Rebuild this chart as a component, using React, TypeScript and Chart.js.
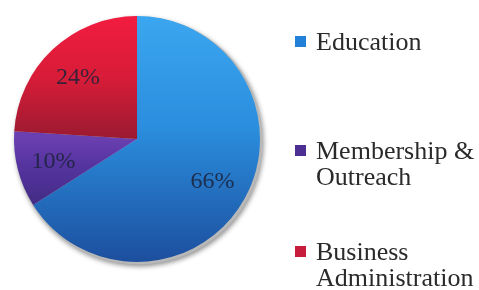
import React, { useEffect, useRef } from "react";
import { Chart, registerables } from "chart.js";

Chart.register(...registerables);

const categories = ["Education", "Membership & Outreach", "Business Administration"];
const values = [66, 10, 24];
const legendLines = [["Education"], ["Membership &", "Outreach"], ["Business", "Administration"]];
const percentLabels = ["66%", "10%", "24%"];

const gradientStops = [
  ["#3ba6f0", "#2b8ede", "#1c4f9e"],
  ["#6a3fb0", "#5634a0", "#3f2a80"],
  ["#f21c40", "#d81c38", "#9a1a30"],
];
const legendColors = ["#2180d8", "#4d2f93", "#c81c3c"];

const FONT = '"Liberation Serif", "Times New Roman", serif';

export default function App() {
  const canvasRef = useRef<HTMLCanvasElement | null>(null);

  useEffect(() => {
    document.body.style.margin = "0";
    const canvas = canvasRef.current;
    if (!canvas) return;

    const shadowPlugin = {
      id: "pieShadow",
      beforeDatasetsDraw(chart: any) {
        const arc = chart.getDatasetMeta(0).data[0];
        if (!arc) return;
        const { x, y, outerRadius } = arc;
        const ctx = chart.ctx;
        ctx.save();
        ctx.shadowColor = "rgba(0,0,0,0.45)";
        ctx.shadowBlur = 5;
        ctx.shadowOffsetX = 1;
        ctx.shadowOffsetY = 2;
        ctx.fillStyle = "#b8b8b8";
        ctx.beginPath();
        ctx.arc(x + 1.5, y + 1.5, outerRadius + 1, 0, Math.PI * 2);
        ctx.fill();
        ctx.restore();
      },
    };

    const labelPlugin = {
      id: "labelsAndLegend",
      afterDatasetsDraw(chart: any) {
        const ctx = chart.ctx;
        const meta = chart.getDatasetMeta(0);
        ctx.save();
        ctx.font = `24px ${FONT}`;
        ctx.fillStyle = "rgba(28,34,58,0.85)";
        ctx.textAlign = "center";
        ctx.textBaseline = "middle";
        meta.data.forEach((arc: any, i: number) => {
          const mid = (arc.startAngle + arc.endAngle) / 2;
          const r = arc.outerRadius * 0.7;
          ctx.fillText(percentLabels[i], arc.x + Math.cos(mid) * r, arc.y + Math.sin(mid) * r + 1);
        });
        ctx.restore();

        // legend
        const tops = [50, 159, 260];
        const lineGap = 26;
        ctx.save();
        ctx.font = `26px ${FONT}`;
        ctx.textAlign = "left";
        ctx.textBaseline = "alphabetic";
        legendLines.forEach((lines, i) => {
          const base = tops[i];
          ctx.fillStyle = legendColors[i];
          ctx.fillRect(295, base - 14, 11, 11);
          ctx.fillStyle = "#2a2a2a";
          lines.forEach((t, j) => ctx.fillText(t, 316, base + j * lineGap));
        });
        ctx.restore();
      },
    };

    const chart = new Chart(canvas, {
      type: "pie",
      data: {
        labels: categories,
        datasets: [
          {
            data: values,
            borderWidth: 0,
            backgroundColor: (c: any) => {
              const ch = c.chart;
              const area = ch.chartArea;
              const stops = gradientStops[c.dataIndex % gradientStops.length];
              if (!area) return stops[1];
              const g = ch.ctx.createLinearGradient(0, area.top, 0, area.bottom);
              if (c.dataIndex === 2) {
                g.addColorStop(0, stops[0]);
                g.addColorStop(0.25, stops[1]);
                g.addColorStop(0.5, stops[2]);
                g.addColorStop(1, stops[2]);
              } else if (c.dataIndex === 1) {
                g.addColorStop(0, stops[0]);
                g.addColorStop(0.5, stops[0]);
                g.addColorStop(0.6, stops[1]);
                g.addColorStop(0.8, stops[2]);
                g.addColorStop(1, stops[2]);
              } else {
                g.addColorStop(0, stops[0]);
                g.addColorStop(0.45, stops[1]);
                g.addColorStop(1, stops[2]);
              }
              return g;
            },
          },
        ],
      },
      options: {
        responsive: false,
        animation: false,
        layout: { padding: { left: 14, top: 16, right: 219, bottom: 28 } },
        plugins: {
          legend: { display: false },
          tooltip: { enabled: false },
        },
      },
      plugins: [shadowPlugin, labelPlugin],
    });

    return () => chart.destroy();
  }, []);

  return (
    <div style={{ position: "absolute", left: 0, top: 0, width: 479, height: 290, background: "#fff" }}>
      <canvas ref={canvasRef} width={479} height={290} style={{ width: 479, height: 290, display: "block" }} />
    </div>
  );
}
